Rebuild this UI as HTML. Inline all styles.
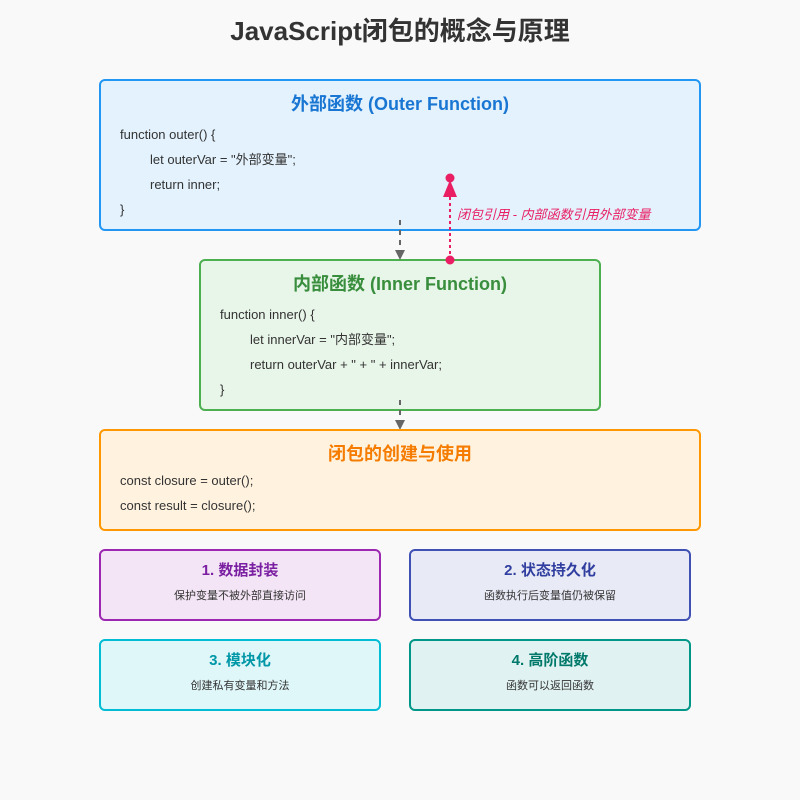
<!DOCTYPE html>
<html><head><meta charset="utf-8"><style>
html,body{margin:0;padding:0;background:#f9f9f9;}
svg{display:block;font-family:"Liberation Sans","Noto Sans CJK SC",sans-serif;}
.c{font-size:13px;fill:#333;}
.t{font-size:18px;font-weight:bold;text-anchor:middle;}
.ct{font-size:15px;font-weight:bold;text-anchor:middle;}
.cd{font-size:11px;fill:#333;text-anchor:middle;}
</style></head><body>
<svg width="800" height="800" viewBox="0 0 800 800" xmlns="http://www.w3.org/2000/svg">
<defs>
<marker id="ag" markerWidth="10" markerHeight="10" refX="9" refY="5" orient="auto" markerUnits="userSpaceOnUse"><path d="M0,0 L10,5 L0,10 Z" fill="#666"/></marker>
</defs>
<rect width="800" height="800" fill="#f9f9f9"/>
<text x="400" y="40" text-anchor="middle" font-size="26" font-weight="bold" fill="#333">JavaScript闭包的概念与原理</text>

<rect x="100" y="80" width="600" height="150" rx="5" fill="#e3f2fd" stroke="#2196f3" stroke-width="2"/>
<text x="400" y="110" class="t" fill="#1976d2">外部函数 (Outer Function)</text>
<text x="120" y="139" class="c">function outer() {</text>
<text x="150" y="164" class="c">let outerVar = "外部变量";</text>
<text x="150" y="189" class="c">return inner;</text>
<text x="120" y="214" class="c">}</text>

<rect x="200" y="260" width="400" height="150" rx="5" fill="#e8f5e9" stroke="#4caf50" stroke-width="2"/>
<text x="400" y="290" class="t" fill="#388e3c">内部函数 (Inner Function)</text>
<text x="220" y="319" class="c">function inner() {</text>
<text x="250" y="344" class="c">let innerVar = "内部变量";</text>
<text x="250" y="369" class="c">return outerVar + " + " + innerVar;</text>
<text x="220" y="394" class="c">}</text>

<line x1="400" y1="220" x2="400" y2="259" stroke="#666" stroke-width="2" stroke-dasharray="5,5" marker-end="url(#ag)"/>
<line x1="400" y1="400" x2="400" y2="429" stroke="#666" stroke-width="2" stroke-dasharray="5,5" marker-end="url(#ag)"/>

<line x1="450" y1="260" x2="450" y2="195" stroke="#e91e63" stroke-width="2" stroke-dasharray="3,3"/>
<path d="M443,197 L450,180 L457,197 Z" fill="#e91e63"/>
<circle cx="450" cy="178" r="4.5" fill="#e91e63"/>
<circle cx="450" cy="260" r="4.5" fill="#e91e63"/>
<text x="457" y="219" font-size="13" font-style="italic" fill="#e91e63">闭包引用 - 内部函数引用外部变量</text>

<rect x="100" y="430" width="600" height="100" rx="5" fill="#fff3e0" stroke="#ff9800" stroke-width="2"/>
<text x="400" y="460" class="t" fill="#f57c00">闭包的创建与使用</text>
<text x="120" y="485" class="c">const closure = outer();</text>
<text x="120" y="510" class="c">const result = closure();</text>

<rect x="100" y="550" width="280" height="70" rx="5" fill="#f3e5f5" stroke="#9c27b0" stroke-width="2"/>
<text x="240" y="575" class="ct" fill="#7b1fa2">1. 数据封装</text>
<text x="240" y="599" class="cd">保护变量不被外部直接访问</text>

<rect x="410" y="550" width="280" height="70" rx="5" fill="#e8eaf6" stroke="#3f51b5" stroke-width="2"/>
<text x="550" y="575" class="ct" fill="#303f9f">2. 状态持久化</text>
<text x="550" y="599" class="cd">函数执行后变量值仍被保留</text>

<rect x="100" y="640" width="280" height="70" rx="5" fill="#e0f7fa" stroke="#00bcd4" stroke-width="2"/>
<text x="240" y="665" class="ct" fill="#0097a7">3. 模块化</text>
<text x="240" y="689" class="cd">创建私有变量和方法</text>

<rect x="410" y="640" width="280" height="70" rx="5" fill="#e0f2f1" stroke="#009688" stroke-width="2"/>
<text x="550" y="665" class="ct" fill="#00796b">4. 高阶函数</text>
<text x="550" y="689" class="cd">函数可以返回函数</text>
</svg>
</body></html>
